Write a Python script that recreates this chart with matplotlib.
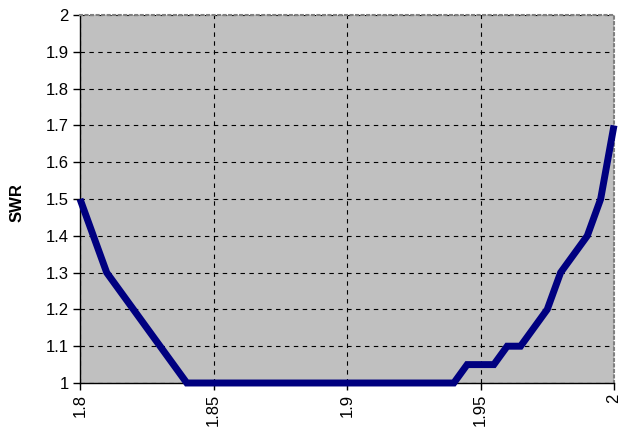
import matplotlib
matplotlib.use("Agg")
import matplotlib.pyplot as plt

plt.rcParams['font.family'] = ['Liberation Sans', 'DejaVu Sans']

freq = [1.800, 1.805, 1.810, 1.815, 1.820, 1.825, 1.830, 1.835, 1.840,
        1.845, 1.850, 1.855, 1.860, 1.865, 1.870, 1.875, 1.880, 1.885,
        1.890, 1.895, 1.900, 1.905, 1.910, 1.915, 1.920, 1.925, 1.930,
        1.935, 1.940, 1.945, 1.950, 1.955, 1.960, 1.965, 1.970, 1.975,
        1.980, 1.985, 1.990, 1.995, 2.000]
swr = [1.5, 1.4, 1.3, 1.25, 1.2, 1.15, 1.1, 1.05, 1.0,
       1.0, 1.0, 1.0, 1.0, 1.0, 1.0, 1.0, 1.0, 1.0,
       1.0, 1.0, 1.0, 1.0, 1.0, 1.0, 1.0, 1.0, 1.0,
       1.0, 1.0, 1.05, 1.05, 1.05, 1.1, 1.1, 1.15, 1.2,
       1.3, 1.35, 1.4, 1.5, 1.7]
xticks = [1.8, 1.85, 1.9, 1.95, 2.0]
xtick_labels = ["1.8", "1.85", "1.9", "1.95", "2"]
yticks = [1.0, 1.1, 1.2, 1.3, 1.4, 1.5, 1.6, 1.7, 1.8, 1.9, 2.0]
ytick_labels = ["1", "1.1", "1.2", "1.3", "1.4", "1.5", "1.6", "1.7", "1.8", "1.9", "2"]

fig = plt.figure(figsize=(6.23, 4.33), dpi=100)
ax = fig.add_axes([80/623, 50/433, 534/623, 368/433])
ax.set_facecolor('#C0C0C0')

ax.plot(freq, swr, color='#000080', linewidth=5.0, solid_joinstyle='miter',
        solid_capstyle='butt', clip_on=False, zorder=3)

ax.set_xlim(1.8, 2.0)
ax.set_ylim(1.0, 2.0)
ax.set_xticks(xticks)
ax.set_xticklabels(xtick_labels, rotation=90, fontsize=12)
ax.set_yticks(yticks)
ax.set_yticklabels(ytick_labels, fontsize=12)
ax.tick_params(direction='out', length=5, width=1, color='black', pad=3)

ax.grid(True, color='black', linestyle=(0, (4, 4)), linewidth=0.8)
ax.set_axisbelow(True)

for s in ['top', 'right']:
    ax.spines[s].set_color('#808080')
    ax.spines[s].set_linestyle(':')
    ax.spines[s].set_linewidth(1.5)
for s in ['left', 'bottom']:
    ax.spines[s].set_color('black')
    ax.spines[s].set_linewidth(1)

ax.set_ylabel('SWR', fontsize=12, fontweight='bold', va='center')
ax.yaxis.set_label_coords(-0.118, 0.49)

fig.savefig('out.png', dpi=100)
